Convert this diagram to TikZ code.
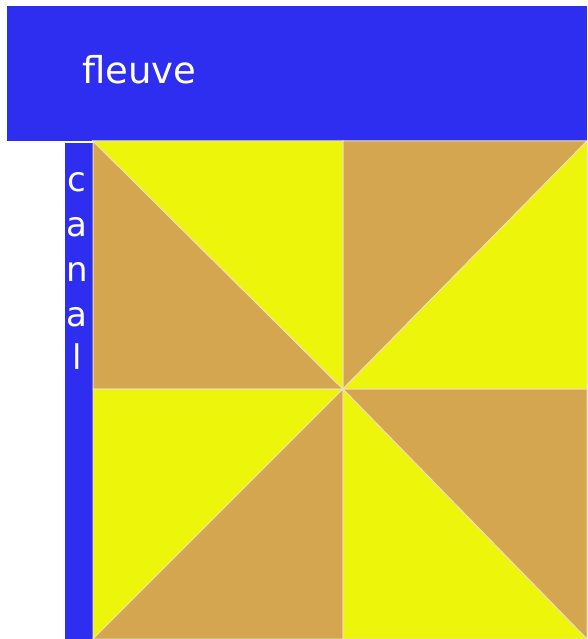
\documentclass[tikz,border=0pt]{standalone}
\usepackage{fontspec}
\setmainfont{DejaVu Sans}
\definecolor{riverblue}{HTML}{2E2EF0}
\definecolor{tan}{HTML}{D4A650}
\definecolor{lemon}{HTML}{ECF50A}
\definecolor{edge}{HTML}{F0E0B0}
\begin{document}
\begin{tikzpicture}[x=1pt,y=-1pt,
  tri/.style={line width=1pt,draw=edge},
  lbl/.style={text=white,inner sep=0pt,font=\fontsize{37}{37}\selectfont}]
\useasboundingbox (0,0) rectangle (587,639);
% river
\fill[riverblue] (7,6) rectangle (587,141);
\node[lbl,anchor=base west] (fleuve) at (82,84) {fleuve};
% canal
\fill[riverblue] (65,143) rectangle (93,639);
\foreach \ch/\y [count=\i] in {c/191,a/236,n/281,a/326,l/369}
  \node[lbl,anchor=base,font=\fontsize{34}{34}\selectfont] (canal\i) at (77,\y) {\ch};
% square
\coordinate (O) at (343,389);
\coordinate (TL) at (93,141);
\coordinate (TM) at (343,141);
\coordinate (TR) at (587,141);
\coordinate (ML) at (93,389);
\coordinate (MR) at (587,389);
\coordinate (BL) at (93,639);
\coordinate (BM) at (343,639);
\coordinate (BR) at (587,639);
% top-left quadrant
\filldraw[tri,fill=tan] (TL) -- (ML) -- (O) -- cycle;
\filldraw[tri,fill=lemon] (TL) -- (TM) -- (O) -- cycle;
% top-right quadrant
\filldraw[tri,fill=tan] (TM) -- (TR) -- (O) -- cycle;
\filldraw[tri,fill=lemon] (TR) -- (MR) -- (O) -- cycle;
% bottom-left quadrant
\filldraw[tri,fill=lemon] (ML) -- (BL) -- (O) -- cycle;
\filldraw[tri,fill=tan] (BL) -- (BM) -- (O) -- cycle;
% bottom-right quadrant
\filldraw[tri,fill=lemon] (O) -- (BM) -- (BR) -- cycle;
\filldraw[tri,fill=tan] (O) -- (MR) -- (BR) -- cycle;
\end{tikzpicture}
\end{document}
